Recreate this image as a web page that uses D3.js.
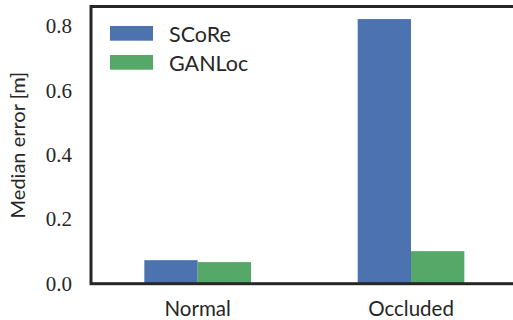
<!DOCTYPE html>
<html>
<head>
<meta charset="utf-8">
<script src="https://cdn.jsdelivr.net/npm/d3@7"></script>
<style>
  body { margin: 0; background: #fff; }
  svg { display: block; }
</style>
</head>
<body>
<div id="chart"></div>
<script>
// data
const categories = ["Normal", "Occluded"];
const seriesNames = ["SCoRe", "GANLoc"];
const score = [0.073, 0.821];
const ganloc = [0.067, 0.101];
const yTicks = [0.0, 0.2, 0.4, 0.6, 0.8];
const colors = ["#4c72b0", "#55a868"];

const width = 513;
const height = 320;
// plot area (right edge runs past the window, like the reference)
const plotLeft = 91, plotRight = 517.7, plotTop = 6.5, plotBottom = 283.7;

const svg = d3.select("#chart")
  .append("svg")
  .attr("width", width)
  .attr("height", height);

const x = d3.scaleBand()
  .domain(categories)
  .range([plotLeft, plotRight])
  .paddingInner(0.5)
  .paddingOuter(0.25);

const xInner = d3.scaleBand()
  .domain(seriesNames)
  .range([0, x.bandwidth()]);

const y = d3.scaleLinear()
  .domain([0, 0.86])
  .range([plotBottom, plotTop]);

const rows = categories.map((c, i) => ({ cat: c, values: [score[i], ganloc[i]] }));

// bars
const groups = svg.selectAll("g.group")
  .data(rows)
  .enter()
  .append("g")
  .attr("class", "group")
  .attr("transform", d => `translate(${x(d.cat)},0)`);

groups.selectAll("rect")
  .data(d => d.values.map((v, j) => ({ name: seriesNames[j], value: v, color: colors[j] })))
  .enter()
  .append("rect")
  .attr("x", d => xInner(d.name))
  .attr("width", xInner.bandwidth())
  .attr("y", d => y(d.value))
  .attr("height", d => y(0) - y(d.value))
  .attr("fill", d => d.color);

// y axis tick labels (serif, no tick marks)
const yAxis = d3.axisLeft(y)
  .tickValues(yTicks)
  .tickFormat(d3.format(".1f"))
  .tickSize(0)
  .tickPadding(19);

svg.append("g")
  .attr("transform", `translate(${plotLeft},0)`)
  .call(yAxis)
  .call(g => g.select(".domain").remove())
  .call(g => g.selectAll("text")
    .attr("font-family", "'Liberation Serif', serif")
    .attr("font-size", 21)
    .attr("fill", "#262626"));

// x axis labels
const xAxis = d3.axisBottom(x).tickSize(0).tickPadding(18);
svg.append("g")
  .attr("transform", `translate(0,${plotBottom})`)
  .call(xAxis)
  .call(g => g.select(".domain").remove())
  .call(g => g.selectAll("text")
    .attr("font-family", "Lato, sans-serif")
    .attr("font-size", 20.5)
    .attr("fill", "#262626"));

// frame
svg.append("rect")
  .attr("x", plotLeft)
  .attr("y", plotTop)
  .attr("width", plotRight - plotLeft)
  .attr("height", plotBottom - plotTop)
  .attr("fill", "none")
  .attr("stroke", "#262626")
  .attr("stroke-width", 3);

// y label
svg.append("text")
  .attr("transform", `translate(25,${(plotTop + plotBottom) / 2}) rotate(-90)`)
  .attr("text-anchor", "middle")
  .attr("font-family", "Lato, sans-serif")
  .attr("font-size", 20)
  .attr("fill", "#262626")
  .text("Median error [m]");

// legend
const legend = svg.append("g");
seriesNames.forEach((name, i) => {
  const ly = 26 + i * 29;
  legend.append("rect")
    .attr("x", 110)
    .attr("y", ly)
    .attr("width", 43)
    .attr("height", 14.7)
    .attr("fill", colors[i]);
  legend.append("text")
    .attr("x", 169)
    .attr("y", ly + 15.5)
    .attr("font-family", "Lato, sans-serif")
    .attr("font-size", 21.5)
    .attr("fill", "#262626")
    .text(name);
});
</script>
</body>
</html>
